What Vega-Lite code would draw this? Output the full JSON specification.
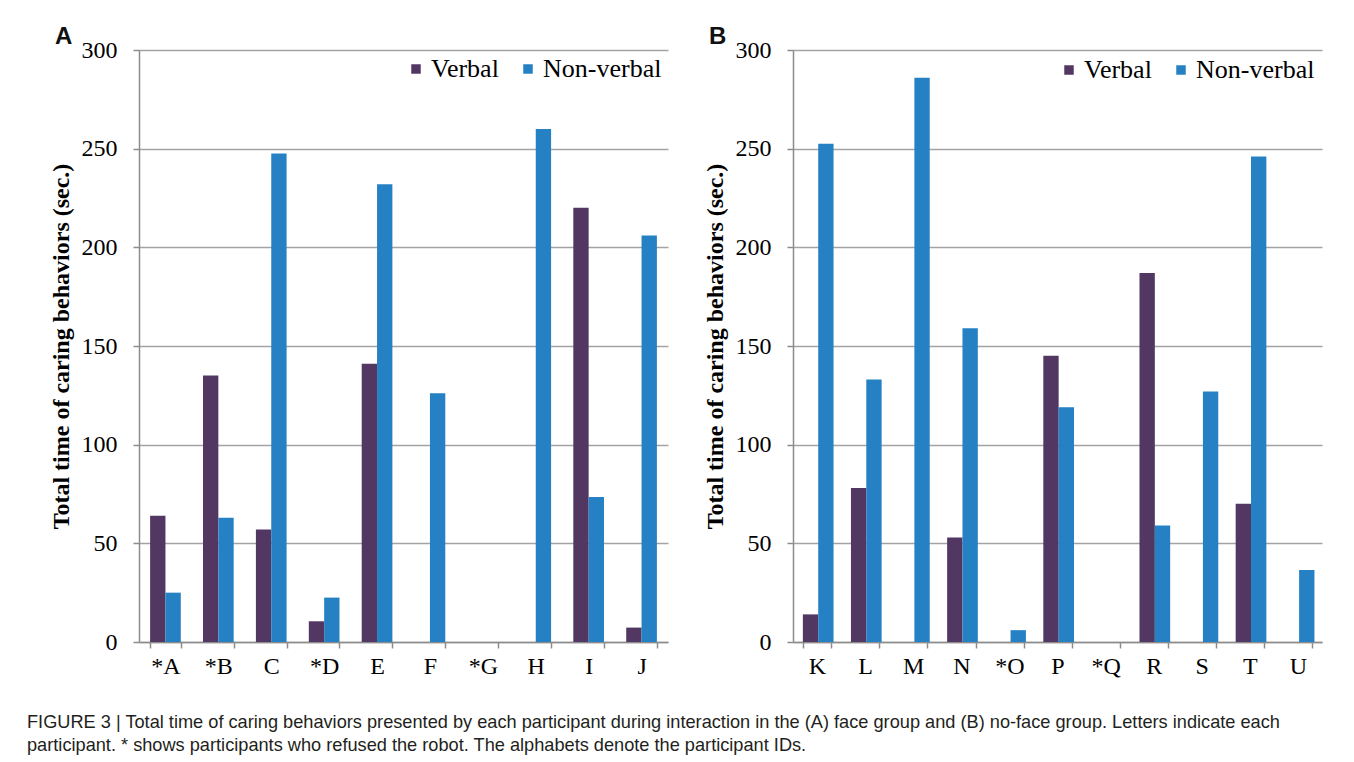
{
  "$schema": "https://vega.github.io/schema/vega-lite/v6.json",
  "padding": {"left": 27, "top": 25, "right": 5, "bottom": 5},
  "datasets": {
    "faceGroup": [
      {"participant": "*A", "type": "Verbal", "value": 64},
      {"participant": "*A", "type": "Non-verbal", "value": 25},
      {"participant": "*B", "type": "Verbal", "value": 135},
      {"participant": "*B", "type": "Non-verbal", "value": 63},
      {"participant": "C", "type": "Verbal", "value": 57},
      {"participant": "C", "type": "Non-verbal", "value": 247.5},
      {"participant": "*D", "type": "Verbal", "value": 10.5},
      {"participant": "*D", "type": "Non-verbal", "value": 22.5},
      {"participant": "E", "type": "Verbal", "value": 141},
      {"participant": "E", "type": "Non-verbal", "value": 232},
      {"participant": "F", "type": "Verbal", "value": 0},
      {"participant": "F", "type": "Non-verbal", "value": 126},
      {"participant": "*G", "type": "Verbal", "value": 0},
      {"participant": "*G", "type": "Non-verbal", "value": 0},
      {"participant": "H", "type": "Verbal", "value": 0},
      {"participant": "H", "type": "Non-verbal", "value": 260},
      {"participant": "I", "type": "Verbal", "value": 220},
      {"participant": "I", "type": "Non-verbal", "value": 73.5},
      {"participant": "J", "type": "Verbal", "value": 7.3},
      {"participant": "J", "type": "Non-verbal", "value": 206}
    ],
    "noFaceGroup": [
      {"participant": "K", "type": "Verbal", "value": 14},
      {"participant": "K", "type": "Non-verbal", "value": 252.5},
      {"participant": "L", "type": "Verbal", "value": 78},
      {"participant": "L", "type": "Non-verbal", "value": 133},
      {"participant": "M", "type": "Verbal", "value": 0},
      {"participant": "M", "type": "Non-verbal", "value": 286},
      {"participant": "N", "type": "Verbal", "value": 53},
      {"participant": "N", "type": "Non-verbal", "value": 159},
      {"participant": "*O", "type": "Verbal", "value": 0},
      {"participant": "*O", "type": "Non-verbal", "value": 6},
      {"participant": "P", "type": "Verbal", "value": 145},
      {"participant": "P", "type": "Non-verbal", "value": 119},
      {"participant": "*Q", "type": "Verbal", "value": 0},
      {"participant": "*Q", "type": "Non-verbal", "value": 0},
      {"participant": "R", "type": "Verbal", "value": 187},
      {"participant": "R", "type": "Non-verbal", "value": 59},
      {"participant": "S", "type": "Verbal", "value": 0},
      {"participant": "S", "type": "Non-verbal", "value": 127},
      {"participant": "T", "type": "Verbal", "value": 70},
      {"participant": "T", "type": "Non-verbal", "value": 246},
      {"participant": "U", "type": "Verbal", "value": 0},
      {"participant": "U", "type": "Non-verbal", "value": 36.5}
    ]
  },
  "title": {
    "text": [
      "FIGURE 3 | Total time of caring behaviors presented by each participant during interaction in the (A) face group and (B) no-face group. Letters indicate each",
      "participant. * shows participants who refused the robot. The alphabets denote the participant IDs."
    ],
    "orient": "bottom",
    "anchor": "start",
    "frame": "bounds",
    "font": "Liberation Sans",
    "fontSize": 18.2,
    "fontWeight": "normal",
    "color": "#231f20",
    "lineHeight": 23,
    "offset": 36,
    "dx": -22
  },
  "spacing": 35,
  "resolve": {"scale": {"color": "independent"}},
  "hconcat": [
    {
      "width": 529,
      "height": 592,
      "data": {"name": "faceGroup"},
      "title": {"text": "A", "anchor": "start", "frame": "group", "dx": -84, "offset": -11},
      "mark": {"type": "bar"},
      "encoding": {
        "x": {
          "field": "participant", "type": "nominal", "sort": null,
          "scale": {"paddingInner": 0.42, "paddingOuter": 0.21},
          "axis": {"title": null}
        },
        "xOffset": {"field": "type", "type": "nominal", "sort": ["Verbal", "Non-verbal"], "scale": {"paddingInner": 0, "paddingOuter": 0}},
        "y": {
          "field": "value", "type": "quantitative",
          "scale": {"domain": [0, 300]},
          "axis": {"title": "Total time of caring behaviors (sec.)", "values": [0, 50, 100, 150, 200, 250, 300]}
        },
        "color": {
          "field": "type", "type": "nominal",
          "scale": {"domain": ["Verbal", "Non-verbal"], "range": ["#533763", "#2581c4"]},
          "legend": {"title": null, "orient": "top-right", "direction": "horizontal", "offset": 6}
        }
      }
    },
    {
      "width": 529,
      "height": 592,
      "data": {"name": "noFaceGroup"},
      "title": {"text": "B", "anchor": "start", "frame": "group", "dx": -84, "offset": -11},
      "mark": {"type": "bar"},
      "encoding": {
        "x": {
          "field": "participant", "type": "nominal", "sort": null,
          "scale": {"paddingInner": 0.41, "paddingOuter": 0.205},
          "axis": {"title": null}
        },
        "xOffset": {"field": "type", "type": "nominal", "sort": ["Verbal", "Non-verbal"], "scale": {"paddingInner": 0, "paddingOuter": 0}},
        "y": {
          "field": "value", "type": "quantitative",
          "scale": {"domain": [0, 300]},
          "axis": {"title": "Total time of caring behaviors (sec.)", "values": [0, 50, 100, 150, 200, 250, 300]}
        },
        "color": {
          "field": "type", "type": "nominal",
          "scale": {"domain": ["Verbal", "Non-verbal"], "range": ["#533763", "#2581c4"]},
          "legend": {"title": null, "orient": "top-right", "direction": "horizontal", "offset": 7}
        }
      }
    }
  ],
  "config": {
    "background": "white",
    "view": {"stroke": null},
    "title": {"font": "Liberation Sans", "fontSize": 24, "fontWeight": "bold", "color": "#111111"},
    "axis": {
      "labelFont": "Liberation Serif",
      "labelFontSize": 24,
      "labelColor": "#000000",
      "titleFont": "Liberation Serif",
      "titleFontSize": 24,
      "titleFontWeight": "bold",
      "titleColor": "#000000",
      "domainColor": "#8c8c8c",
      "domainWidth": 1.5,
      "tickColor": "#8c8c8c",
      "tickWidth": 1.5,
      "tickSize": 6,
      "gridColor": "#a3a3a3",
      "gridWidth": 1.5
    },
    "axisX": {"grid": false, "labelAngle": 0, "tickBand": "extent", "labelPadding": 6},
    "axisY": {"grid": true, "labelPadding": 16, "titlePadding": 8},
    "legend": {
      "labelFont": "Liberation Serif",
      "labelFontSize": 26,
      "labelColor": "#000000",
      "symbolType": "square",
      "symbolSize": 90,
      "symbolStrokeWidth": 0,
      "symbolOpacity": 1,
      "columnPadding": 16,
      "labelOffset": 2,
      "padding": 0
    }
  }
}
